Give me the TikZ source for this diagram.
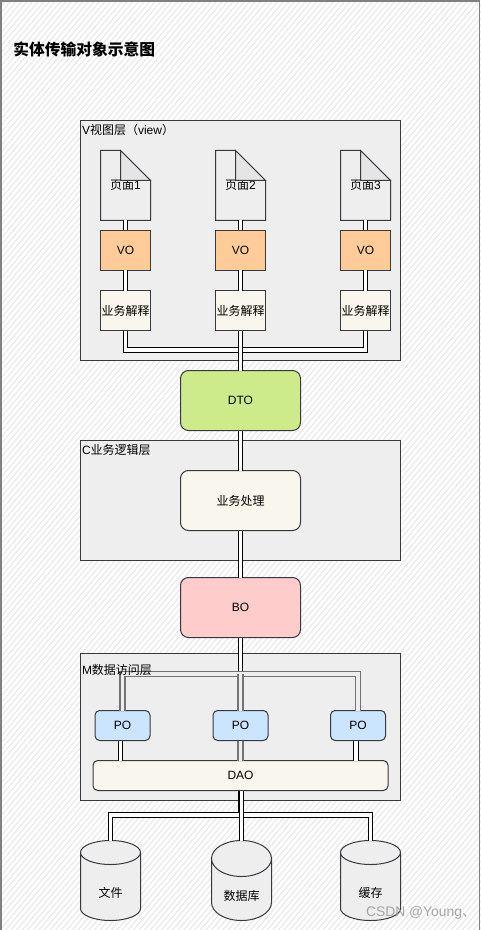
\documentclass[tikz,border=0pt]{standalone}
\usepackage{fontspec}
\setmainfont{Liberation Sans}
\newfontfamily\cjk{Noto Sans CJK SC}
\usepackage{xcolor}
\usepackage{tikz}
\usetikzlibrary{positioning, shapes, calc, patterns.meta}
\definecolor{edgegray}{RGB}{54, 57, 61}
\definecolor{layergray}{RGB}{238, 238, 238}
\definecolor{voorange}{RGB}{255, 204, 153}
\definecolor{paperbeige}{RGB}{249, 247, 237}
\definecolor{dtogreen}{RGB}{205, 235, 139}
\definecolor{bored}{RGB}{255, 204, 204}
\definecolor{poblue}{RGB}{204, 229, 255}

\begin{document}
\begin{tikzpicture}[x=0.75pt, y=-0.75pt,
    every node/.style={font=\fontsize{9pt}{11pt}\selectfont, inner sep=0pt, outer sep=0pt},
    layer/.style={draw=edgegray, fill=layergray, line width=0.75pt, minimum width=240pt, anchor=north west},
    tag/.style={anchor=north west},
    docbox/.style={minimum width=37.5pt, minimum height=52.5pt},
    vobox/.style={draw=edgegray, fill=voorange, line width=0.75pt, minimum width=37.5pt, minimum height=30pt},
    bizbox/.style={draw=edgegray, fill=paperbeige, line width=0.75pt, minimum width=37.5pt, minimum height=30pt},
    bigbox/.style={draw=edgegray, line width=0.75pt, rounded corners=6pt, minimum width=90pt, minimum height=45pt},
    pobox/.style={draw=edgegray, fill=poblue, line width=0.75pt, rounded corners=3.5pt, minimum width=41.25pt, minimum height=22.5pt},
    store/.style={draw=edgegray, fill=layergray, line width=0.75pt, cylinder, shape border rotate=90, aspect=1, minimum width=45pt, minimum height=60pt, anchor=shape center},
    link/.style={preaction={draw=black, line width=4pt}, draw=white, line width=2.4pt},
    fadedlink/.style={preaction={draw=black!55, line width=4.6pt}, draw=layergray, line width=2.4pt}
]
\useasboundingbox (0,0) rectangle (481,930);
\fill[white] (0,0) rectangle (481,930);
\fill[pattern={Lines[angle=50,distance=3.2pt,line width=1pt]}, pattern color=black!8] (0,0) rectangle (481,930);
\draw[gray, line width=0.9pt] (1,930) -- (1,1) -- (479.5,1) -- (479.5,930);

\node[font=\fontsize{11.8pt}{14pt}\bfseries\cjk, anchor=west] (title) at (13.5,49.5) {实体传输对象示意图};

% layers
\node[layer, minimum height=180pt] (vlayer) at (80.5,120.5) {};
\node[layer, minimum height=90pt] (clayer) at (80.5,440.5) {};
\node[layer, minimum height=110.25pt] (mlayer) at (80.5,653.5) {};

% page columns
\foreach \i/\x in {1/125.5,2/240.5,3/365.5} {
    \node[docbox] (doc\i) at (\x,185.5) {{\cjk 页面}\i};
    \node[vobox] (vo\i) at (\x,250.5) {VO};
    \node[bizbox] (biz\i) at (\x,310.5) {\cjk 业务解释};
    \draw[edgegray, line width=0.75pt] (doc\i.north west) -- ++(20,0) -- ++(30,30) |- (doc\i.south west) -- cycle;
    \draw[edgegray, line width=0.75pt, fill=black!10] ($(doc\i.north west)+(20,0)$) -- ++(30,30) -- ++(-30,0) -- cycle;
    \draw[link] (doc\i.south) -- (vo\i.north);
    \draw[link] (vo\i.south) -- (biz\i.north);
}

\node[bigbox, fill=dtogreen] (dto) at (240.5,400.5) {DTO};
\node[bigbox, fill=paperbeige] (logic) at (240.5,500.5) {\cjk 业务处理};
\node[bigbox, fill=bored] (bo) at (240.5,607.5) {BO};

\coordinate (jview) at (240.5,350);
\draw[link] (biz1.south) |- (jview);
\draw[link] (biz3.south) |- (jview);
\draw[link] (biz2.south) -- (dto.north);
\draw[link] (dto.south) -- (logic.north);
\draw[link] (logic.south) -- (bo.north);

% data access
\node[pobox] (po1) at (122.5,725.5) {PO};
\node[pobox] (po2) at (240.5,725.5) {PO};
\node[pobox] (po3) at (358,725.5) {PO};
\node[draw=edgegray, fill=paperbeige, line width=0.75pt, rounded corners=3.5pt, minimum width=221.25pt, minimum height=22.5pt] (dao) at (240.5,775.5) {DAO};
\coordinate (jdata) at (240.5,674);
\draw[link] (bo.south) -- (jdata);
\draw[fadedlink] (po1.north) |- (jdata) -| (po3.north);
\draw[fadedlink] (jdata) -- (po2.north);
\draw[link] ($(po1.south)+(-2,0)$) -- ($(dao.north -| po1.south)+(-2,0)$);
\draw[link] ($(po3.south)+(-2,0)$) -- ($(dao.north -| po3.south)+(-2,0)$);
\draw[fadedlink] (po2.south) -- (dao.north);

\node[tag] (vtag) at (82,124) {V{\cjk 视图层（}view{\cjk ）}};
\node[tag] (ctag) at (82,444.5) {C{\cjk 业务逻辑层}};
\node[tag] (mtag) at (82,664.5) {M{\cjk 数据访问层}};

% storage
\node[store] (file) at (110.5,880.5) {\raisebox{-8.25pt}[0pt][0pt]{\cjk 文件}};
\node[store] (db) at (241.5,880.5) {\raisebox{-8.25pt}[0pt][0pt]{\cjk 数据库}};
\node[store] (cache) at (370.5,880.5) {\raisebox{-8.25pt}[0pt][0pt]{\cjk 缓存}};
\coordinate (jstore) at (240.5,815);
\draw[link] (dao.south) -- (jstore) -| (file.north);
\draw[link] (jstore) -| (cache.north);
\draw[link] (dao.south -| db.north) -- (db.north);

\node[anchor=west, text=gray!70, font=\fontsize{10.4pt}{12pt}\selectfont] (mark) at (366,913) {CSDN @Young{\cjk 、}};
\end{tikzpicture}
\end{document}
